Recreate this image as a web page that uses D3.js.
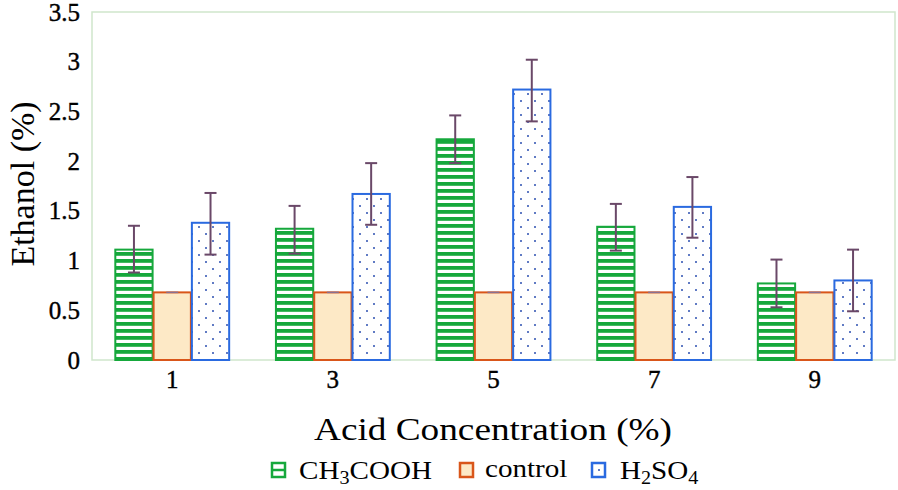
<!DOCTYPE html>
<html><head><meta charset="utf-8">
<script src="https://cdn.jsdelivr.net/npm/d3@7"></script>
<style>body{margin:0;background:#fff}svg{display:block}
text{font-family:"Liberation Serif","Times New Roman",serif;}</style>
</head><body>
<svg id="c" width="898" height="490"></svg>
<script>
const categories = ["1","3","5","7","9"];
const seriesNames = ["CH3COOH","control","H2SO4"];
const ch3cooh = [1.11, 1.32, 2.22, 1.34, 0.77];
const ch3coohLow = [0.88, 1.07, 1.98, 1.10, 0.53];
const ch3coohHigh = [1.35, 1.55, 2.46, 1.57, 1.01];
const control = [0.68, 0.68, 0.68, 0.68, 0.68];
const h2so4 = [1.38, 1.67, 2.72, 1.54, 0.80];
const h2so4Low = [1.06, 1.36, 2.40, 1.23, 0.49];
const h2so4High = [1.68, 1.98, 3.02, 1.84, 1.11];
const yTicks = [0, 0.5, 1, 1.5, 2, 2.5, 3, 3.5];

const FONT = "Liberation Serif, Times New Roman, serif";
const svg = d3.select("#c");
const m = {l:92, r:895, t:12, b:360};
const x0 = d3.scaleBand().domain(categories).range([m.l, m.r]).paddingInner(0.285).paddingOuter(0.142);
const x1 = d3.scaleBand().domain(seriesNames).range([0, x0.bandwidth()]);
const y = d3.scaleLinear().domain([0, 3.5]).range([m.b, m.t]);

const defs = svg.append("defs");
const pg = defs.append("pattern").attr("id","pgreen").attr("patternUnits","userSpaceOnUse").attr("width",7).attr("height",7);
pg.append("rect").attr("width",7).attr("height",7).attr("fill","#fff");
pg.append("rect").attr("y",0).attr("width",7).attr("height",3.8).attr("fill","#16a83c");
const pb = defs.append("pattern").attr("id","pblue").attr("patternUnits","userSpaceOnUse").attr("width",14).attr("height",14);
pb.append("rect").attr("width",14).attr("height",14).attr("fill","#fff");
pb.append("circle").attr("cx",3).attr("cy",3).attr("r",1).attr("fill","#2c4fb0");
pb.append("circle").attr("cx",10).attr("cy",10).attr("r",1).attr("fill","#2c4fb0");
const pbl = defs.append("pattern").attr("id","pblueleg").attr("patternUnits","userSpaceOnUse").attr("width",14).attr("height",14).attr("x",592).attr("y",463);
pbl.append("rect").attr("width",14).attr("height",14).attr("fill","#fff");
pbl.append("circle").attr("cx",7).attr("cy",7).attr("r",1).attr("fill","#2c4fb0");

const styles = {
  "CH3COOH": {fill:"url(#pgreen)", stroke:"#16a83c"},
  "control": {fill:"#fde9c6", stroke:"#d9561a"},
  "H2SO4": {fill:"url(#pblue)", stroke:"#2a6ae0"}
};

// frame
svg.append("rect").attr("x",m.l).attr("y",m.t).attr("width",m.r-m.l).attr("height",m.b-m.t)
  .attr("fill","none").attr("stroke","#cfe6cc").attr("stroke-width",1.5);

const valsBy = {"CH3COOH":ch3cooh, "control":control, "H2SO4":h2so4};
const rows = [];
categories.forEach((c,i)=>seriesNames.forEach(s=>rows.push({c, s, v:valsBy[s][i], i})));

svg.append("g").selectAll("rect").data(rows).join("rect")
  .attr("x", d=>x0(d.c)+x1(d.s)+0.5)
  .attr("y", d=>y(d.v))
  .attr("width", x1.bandwidth()-1)
  .attr("height", d=>y(0)-y(d.v))
  .attr("fill", d=>styles[d.s].fill)
  .attr("stroke", d=>styles[d.s].stroke)
  .attr("stroke-width", 2);

// error bars
const errs = [];
categories.forEach((c,i)=>{
  errs.push({c, s:"CH3COOH", lo:ch3coohLow[i], hi:ch3coohHigh[i]});
  errs.push({c, s:"H2SO4", lo:h2so4Low[i], hi:h2so4High[i]});
  errs.push({c, s:"control", lo:control[i], hi:control[i]});
});
const eg = svg.append("g").attr("stroke","#6a4868").attr("stroke-width",2);
errs.forEach(e=>{
  const cx = x0(e.c)+x1(e.s)+x1.bandwidth()/2;
  if (e.hi>e.lo) {
    eg.append("line").attr("x1",cx).attr("x2",cx).attr("y1",y(e.hi)).attr("y2",y(e.lo));
    eg.append("line").attr("x1",cx-6).attr("x2",cx+6).attr("y1",y(e.hi)).attr("y2",y(e.hi));
    eg.append("line").attr("x1",cx-6).attr("x2",cx+6).attr("y1",y(e.lo)).attr("y2",y(e.lo));
  } else {
    eg.append("line").attr("x1",cx-6).attr("x2",cx+6).attr("y1",y(e.hi)).attr("y2",y(e.hi)).attr("stroke-width",1.5).attr("stroke","#8a7090");
  }
});

// axes
const yAxis = svg.append("g").attr("transform",`translate(${m.l},0)`)
  .call(d3.axisLeft(y).tickValues(yTicks).tickSize(0).tickPadding(12).tickFormat(d3.format("")));
yAxis.attr("font-family",FONT);
yAxis.select(".domain").remove();
yAxis.selectAll("text").attr("font-size",25).attr("fill","#000").attr("stroke","#000").attr("stroke-width",0.4);

const xAxis = svg.append("g").attr("transform",`translate(0,${m.b})`)
  .call(d3.axisBottom(x0).tickSize(0).tickPadding(10));
xAxis.attr("font-family",FONT);
xAxis.select(".domain").remove();
xAxis.selectAll("text").attr("font-size",25).attr("fill","#000").attr("stroke","#000").attr("stroke-width",0.4);

svg.append("text").attr("x",493).attr("y",440).attr("text-anchor","middle")
  .attr("font-size",31).attr("textLength",358).attr("lengthAdjust","spacingAndGlyphs")
  .text("Acid Concentration (%)");
svg.append("text").attr("transform","translate(34,184) rotate(-90)").attr("text-anchor","middle")
  .attr("font-size",34).text("Ethanol (%)");

// legend
const leg = svg.append("g").attr("font-size",26);
leg.append("rect").attr("x",272).attr("y",463).attr("width",13).attr("height",14).attr("fill","#fff").attr("stroke","#16a83c").attr("stroke-width",2.5);
leg.append("line").attr("x1",272).attr("x2",285).attr("y1",470).attr("y2",470).attr("stroke","#16a83c").attr("stroke-width",2.5);
const t1 = leg.append("text").attr("transform","translate(299,479) scale(1.12,1)");
t1.append("tspan").text("CH");
t1.append("tspan").attr("font-size",18).attr("dy",5).text("3");
t1.append("tspan").attr("dy",-5).text("COOH");
leg.append("rect").attr("x",460).attr("y",463).attr("width",13).attr("height",14).attr("fill","#fde9c6").attr("stroke","#d9561a").attr("stroke-width",2.5);
leg.append("text").attr("transform","translate(485,477) scale(1.12,1)").text("control");
leg.append("rect").attr("x",592).attr("y",463).attr("width",13).attr("height",14).attr("fill","url(#pblueleg)").attr("stroke","#2a6ae0").attr("stroke-width",2.5);
const t3 = leg.append("text").attr("transform","translate(620,479) scale(1.12,1)");
t3.append("tspan").text("H");
t3.append("tspan").attr("font-size",18).attr("dy",5).text("2");
t3.append("tspan").attr("dy",-5).text("SO");
t3.append("tspan").attr("font-size",18).attr("dy",5).text("4");
</script>
</body></html>
